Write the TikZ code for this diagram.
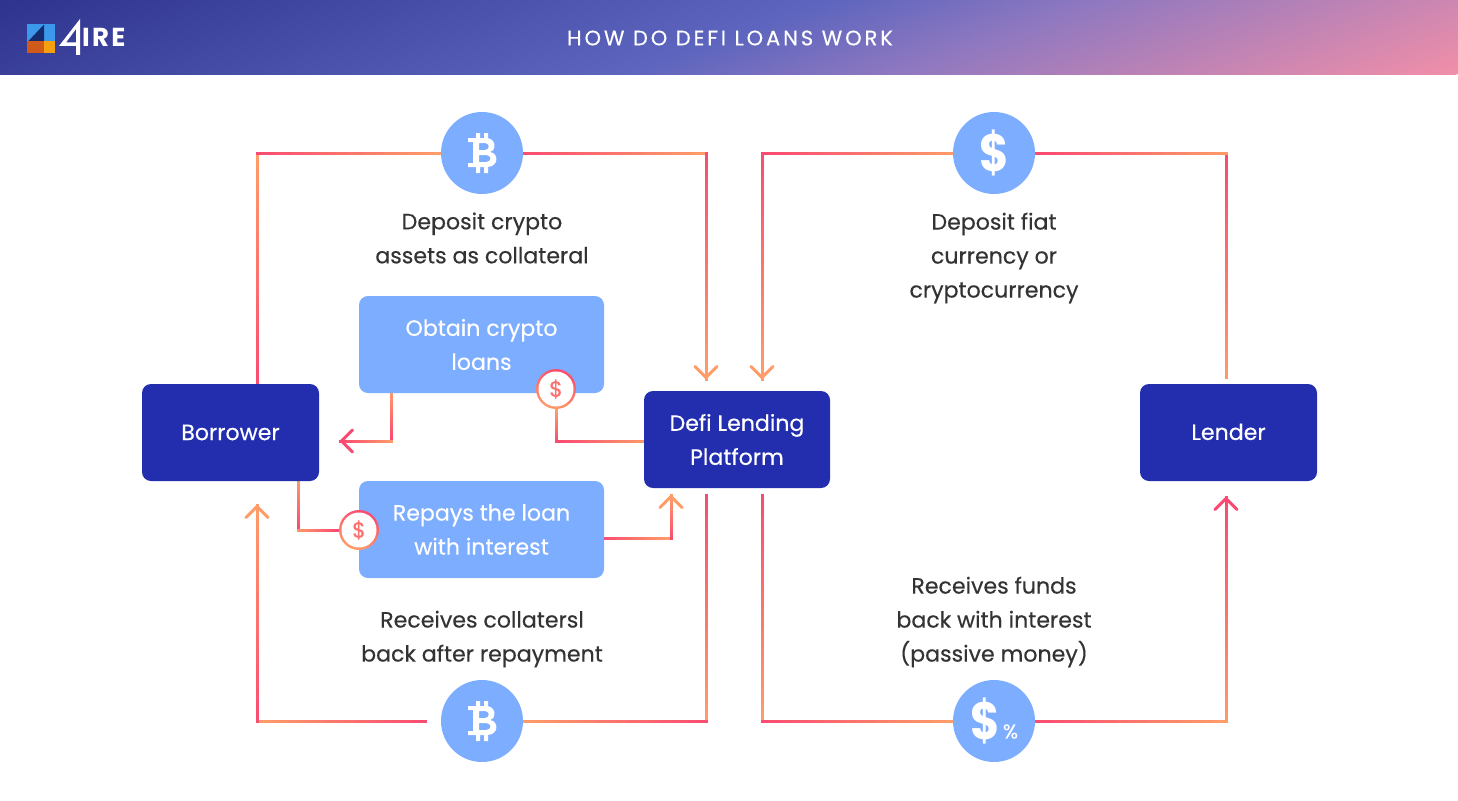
\documentclass[tikz,border=0pt]{standalone}
\usepackage{fontspec}
\setmainfont{Poppins}[FakeBold=0.35,BoldFeatures={FakeBold=0}]
\usetikzlibrary{arrows.meta,calc,backgrounds,decorations.pathreplacing}
\definecolor{linepink}{HTML}{F94A72}
\definecolor{lineorange}{HTML}{FF9C68}
\definecolor{boxdark}{HTML}{232EAF}
\definecolor{boxlight}{HTML}{7CADFF}
\definecolor{textdark}{HTML}{333333}
\definecolor{fadeA}{HTML}{2E348E}
\definecolor{fadeB}{HTML}{5D65BE}
\definecolor{fadeC}{HTML}{8F78C0}
\definecolor{fadeD}{HTML}{F28FA8}
\definecolor{logoblue}{HTML}{3B98EA}
\definecolor{logonavy}{HTML}{152B6E}
\definecolor{logorust}{HTML}{D05A1A}
\definecolor{logoamber}{HTML}{F5A011}
\pgfdeclarehorizontalshading{headerfade}{100bp}{color(0bp)=(fadeA); color(25bp)=(fadeA); color(50bp)=(fadeB); color(58bp)=(fadeC); color(75bp)=(fadeD); color(100bp)=(fadeD)}
\tikzset{
  gradline/.style 2 args={decorate,decoration={show path construction,lineto code={
    \foreach \k [count=\j from 0] in {1,...,30} {
      \pgfmathtruncatemacro\mix{\k/30*100}
      \draw[line width=3pt,line cap=rect,#2!\mix!#1] ($(\tikzinputsegmentfirst)!{\j/30}!(\tikzinputsegmentlast)$) -- ($(\tikzinputsegmentfirst)!{\k/30}!(\tikzinputsegmentlast)$);
    }}}},
  gradfwd/.style={gradline={linepink}{lineorange}},
  gradrev/.style={gradline={lineorange}{linepink}},
  tipline/.style={line width=3pt,-{Straight Barb[length=11pt,width=22pt,round]}},
  darkbox/.style={rectangle,rounded corners=9pt,fill=boxdark,text=white,align=center,minimum height=97pt,inner sep=0pt,outer sep=0pt},
  lightbox/.style={rectangle,rounded corners=9pt,fill=boxlight,text=white,align=center,minimum width=245pt,minimum height=97pt,inner sep=0pt,outer sep=0pt},
  coin/.style={circle,fill=boxlight,text=white,minimum size=82pt,inner sep=0pt,outer sep=0pt},
  payring/.style={circle,left color=linepink,right color=lineorange,shading angle=-20,minimum size=40pt,inner sep=0pt,outer sep=0pt},
  paydot/.style={circle,fill=white,text=linepink!55!lineorange,minimum size=35pt,inner sep=0pt,font=\fontsize{22}{24}\selectfont},
  caption/.style={text=textdark,align=center,inner sep=0pt},
  btcmark/.pic={
    \fill[white,even odd rule] (-14,-15) -- (4,-15) .. controls (14,-15) and (15,-3) .. (8,-1) .. controls (17,0) and (17,14) .. (5,14) -- (-14,14) -- (-14,10) -- (-9,10) -- (-9,-11) -- (-14,-11) -- cycle
      (-3,-10) -- (3,-10) .. controls (8,-10) and (8,-3) .. (3,-3) -- (-3,-3) -- cycle
      (-3,2) -- (4,2) .. controls (10,2) and (10,9) .. (4,9) -- (-3,9) -- cycle;
    \fill[white] (-6,-20) rectangle (-2,-14) (2,-20) rectangle (6,-14) (-6,13) rectangle (-2,20) (2,13) rectangle (6,20);
  }
}
\begin{document}
\begin{tikzpicture}[x=1pt,y=-1pt,font=\fontsize{22.1}{34}\selectfont]
\useasboundingbox (0,0) rectangle (1458,800);
\begin{scope}
\clip (0,0) rectangle (1458,74);
\begin{scope}[transform canvas={rotate around={-70:(729,37)}}]
\shade[shading=headerfade] (445,-1500) rectangle (1013,1500);
\end{scope}
\end{scope}

\fill[logoblue] (27,24) rectangle (55,42);
\fill[logonavy] (28,41.5) -- (44,24.5) -- (44,41.5) -- cycle;
\fill[logorust] (27,41.5) rectangle (44,53);
\fill[logoamber] (44,41.5) rectangle (55,53);
\fill[white,even odd rule] (80,19) -- (59,46) -- (76,46) -- (76,55) -- (80,55) -- cycle (76,29) -- (66,42.5) -- (76,42.5) -- cycle;
\node[text=white,anchor=west,inner sep=0pt,font=\fontsize{26}{28}\selectfont\bfseries\addfontfeatures{LetterSpace=9}] (logotext) at (82,37) {IRE};
\node[text=white,inner sep=0pt,font=\fontsize{21}{24}\selectfont\addfontfeatures{LetterSpace=14}] (title) at (730,38) {HOW DO DEFI LOANS WORK};

\node[darkbox,minimum width=177pt] (borrower) at (230.5,432.5) {Borrower};
\node[darkbox,minimum width=186pt] (platform) at (737,439.5) {Defi Lending\\Platform};
\node[darkbox,minimum width=177pt] (lender) at (1228.5,432.5) {\raisebox{1.5pt}{Lender}};
\node[lightbox] (obtain) at (481.5,344.5) {Obtain crypto\\loans};
\node[lightbox] (repays) at (481.5,529.5) {Repays the loan\\with interest};

\node[coin] (btctop) at (482,153) {};
\node[coin] (btcbot) at (482,721) {};
\node[coin,font=\fontsize{50}{50}\selectfont\bfseries] (usdtop) at (994,153) {\scalebox{.9}[1.05]{\$}};
\node[coin] (usdbot) at (994,721) {};
\pic at (btctop) {btcmark};
\pic at (btcbot) {btcmark};
\node[text=white,inner sep=0pt,font=\fontsize{50}{50}\selectfont\bfseries] (usdsign) at (985,721) {\scalebox{.9}[1.05]{\$}};
\node[text=white,inner sep=0pt,font=\fontsize{20}{20}\selectfont] (usdpct) at (1010.5,731.5) {\%};

\node[payring] (payA) at (556,389) {};
\node[paydot] (payAin) at (payA) {\$};
\node[payring] (payB) at (359,530) {};
\node[paydot] (payBin) at (payB) {\$};

\node[caption] (capdeposit) at (482,238) {Deposit crypto\\assets as collateral};
\node[caption] (capfiat) at (994,258) {Deposit fiat\\currency or\\cryptocurrency};
\node[caption] (capback) at (482,639) {Receives collatersl\\back after repayment};
\node[caption] (capfunds) at (994,622) {Receives funds\\back with interest\\(passive money)};

\coordinate (cornertl) at (257,153);
\coordinate (cornertm) at (762,153);
\coordinate (cornerbr) at (1226,721);
\coordinate (cornerpay) at (556,441);
\coordinate (cornerob) at (391,441);
\coordinate (cornerrep) at (298,530);
\coordinate (tipplata) at (706,379);
\coordinate (tipplatb) at (762,379);
\coordinate (tipplatc) at (671,495);
\coordinate (tipbor) at (257,505);
\coordinate (tipborb) at (340,441);
\coordinate (tiplender) at (1226,497);
\coordinate (platouta) at (706,495);
\coordinate (platoutb) at (762,495);
\coordinate (lenderout) at (1226,377);
\coordinate (btcgap) at (425,721);
\coordinate (repout) at (604,538);

\begin{scope}[on background layer]
\draw[gradfwd] (borrower.north -| cornertl) |- (btctop);
\draw[gradfwd] (btctop) -| (tipplata);
\draw[gradrev] (usdtop) -- (cornertm);
\draw[gradfwd] (cornertm) -- (tipplatb);
\draw[gradrev] (lenderout) |- (usdtop);
\draw[gradfwd] (platoutb) |- (usdbot);
\draw[gradfwd] (usdbot) -- (cornerbr);
\draw[gradrev] (cornerbr) -- (tiplender);
\draw[gradfwd] (platouta) |- (btcbot);
\draw[gradfwd] (btcgap) -| (tipbor);
\draw[gradrev] (obtain.south -| cornerob) |- (tipborb);
\draw[gradrev] (platform.west |- cornerpay) -- (cornerpay);
\draw[gradfwd] (cornerpay) -- (payA);
\draw[gradrev] (borrower.south -| cornerrep) |- (payB);
\draw[gradfwd] (repout) -| (tipplatc);
\end{scope}

\draw[tipline,lineorange] ($(tipplata)+(0,-2)$) -- (tipplata);
\draw[tipline,lineorange] ($(tipplatb)+(0,-2)$) -- (tipplatb);
\draw[tipline,lineorange] ($(tipplatc)+(0,2)$) -- (tipplatc);
\draw[tipline,lineorange] ($(tipbor)+(0,2)$) -- (tipbor);
\draw[tipline,linepink] ($(tipborb)+(2,0)$) -- (tipborb);
\draw[tipline,linepink] ($(tiplender)+(0,2)$) -- (tiplender);
\end{tikzpicture}
\end{document}
